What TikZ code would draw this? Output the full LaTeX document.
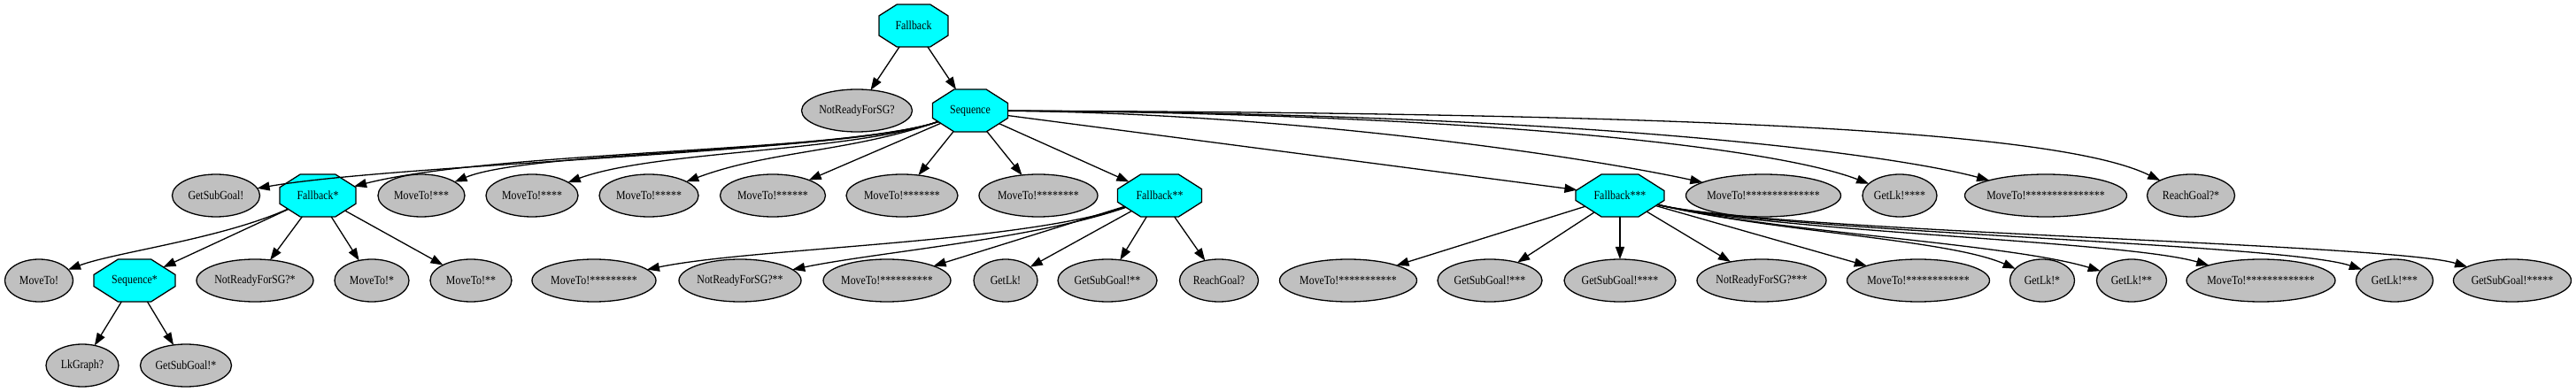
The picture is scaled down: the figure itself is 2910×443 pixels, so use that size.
\documentclass[tikz,border=0pt]{standalone}
\usepackage{fontspec}
\setmainfont{Liberation Serif}[FakeStretch=0.85]
\usetikzlibrary{shapes.geometric,shapes.misc,arrows.meta}
\definecolor{ctrlcyan}{RGB}{0,255,255}
\definecolor{leafgray}{RGB}{192,192,192}
\begin{document}
\begin{tikzpicture}[x=1pt,y=-1pt,
  every node/.style={font=\fontsize{14}{16}\selectfont},
  ctrl/.style={chamfered rectangle, chamfered rectangle xsep=22pt,
    chamfered rectangle ysep=14pt, chamfered rectangle angle=57.5,
    draw, line width=1.3pt, fill=ctrlcyan, minimum width=#1,
    minimum height=48pt, inner xsep=-8pt, inner ysep=0pt, outer sep=0pt},
  leaf/.style={ellipse, draw, line width=1.3pt, fill=leafgray,
    minimum width=#1, minimum height=48pt, inner xsep=-4pt,
    inner ysep=0pt, outer sep=0pt},
  link/.style={line width=1.3pt, -{Triangle[length=14pt,width=10pt]}}]
\useasboundingbox (0,0) rectangle (2910,443);
% root
\node[ctrl=78pt] (fb) at (1032,29) {Fallback};
\node[leaf=125pt] (nr) at (968,125) {NotReadyForSG?};
\node[ctrl=85pt] (seq) at (1096,125) {Sequence};
% children of Sequence
\node[leaf=99pt] (gsg) at (244,221) {GetSubGoal!};
\node[ctrl=86pt] (fbA) at (359,221) {Fallback*};
\node[leaf=98pt] (m3) at (476,221) {MoveTo!***};
\node[leaf=104pt] (m4) at (601,221) {MoveTo!****};
\node[leaf=112pt] (m5) at (733,221) {MoveTo!*****};
\node[leaf=119pt] (m6) at (873,221) {MoveTo!******};
\node[leaf=126pt] (m7) at (1019,221) {MoveTo!*******};
\node[leaf=134pt] (m8) at (1173,221) {MoveTo!********};
\node[ctrl=95pt] (fbB) at (1310,221) {Fallback**};
\node[ctrl=100pt] (fbC) at (1830,221) {Fallback***};
\node[leaf=175pt] (m14) at (1992,221) {MoveTo!**************};
\node[leaf=84pt] (lk4) at (2146,221) {GetLk!****};
\node[leaf=183pt] (m15) at (2311,221) {MoveTo!***************};
\node[leaf=99pt] (rg1) at (2475,221) {ReachGoal?*};
% third level
\node[leaf=77pt] (m0) at (44,317) {MoveTo!};
\node[ctrl=92pt] (seqA) at (152,317) {Sequence*};
\node[leaf=132pt] (nrA) at (288,317) {NotReadyForSG?*};
\node[leaf=84pt] (m1) at (420,317) {MoveTo!*};
\node[leaf=92pt] (m2) at (532,317) {MoveTo!**};
\node[leaf=140pt] (m9) at (671,317) {MoveTo!*********};
\node[leaf=138pt] (nrB) at (836,317) {NotReadyForSG?**};
\node[leaf=144pt] (m10) at (1002,317) {MoveTo!**********};
\node[leaf=72pt] (lk0) at (1136,317) {GetLk!};
\node[leaf=112pt] (gsgB) at (1251,317) {GetSubGoal!**};
\node[leaf=89pt] (rg0) at (1377,317) {ReachGoal?};
\node[leaf=155pt] (m11) at (1523,317) {MoveTo!***********};
\node[leaf=118pt] (gsgC) at (1683,317) {GetSubGoal!***};
\node[leaf=126pt] (gsgD) at (1830,317) {GetSubGoal!****};
\node[leaf=146pt] (nrC) at (1990,317) {NotReadyForSG?***};
\node[leaf=161pt] (m12) at (2167,317) {MoveTo!************};
\node[leaf=73pt] (lk1) at (2307,317) {GetLk!*};
\node[leaf=79pt] (lk2) at (2408,317) {GetLk!**};
\node[leaf=168pt] (m13) at (2554,317) {MoveTo!*************};
\node[leaf=87pt] (lk3) at (2705,317) {GetLk!***};
\node[leaf=133pt] (gsgE) at (2838,317) {GetSubGoal!*****};
% last level
\node[leaf=82pt] (lkg) at (93,413) {LkGraph?};
\node[leaf=103pt] (gsgA) at (210,413) {GetSubGoal!*};
% edges
\draw[link] (fb) -- (nr);
\draw[link] (fb) -- (seq);
\draw[link] (seq) .. controls (960,172) and (450,185) .. (gsg);
\draw[link] (seq) .. controls (960,172) and (560,170) .. (fbA);
\draw[link] (seq) .. controls (960,172) and (600,170) .. (m3);
\draw[link] (seq) .. controls (960,172) and (740,170) .. (m4);
\draw[link] (seq) .. controls (960,172) and (870,170) .. (m5);
\draw[link] (seq) -- (m6);
\draw[link] (seq) -- (m7);
\draw[link] (seq) -- (m8);
\draw[link] (seq) -- (fbB);
\draw[link] (seq) -- (fbC);
\draw[link] (seq) .. controls (1450,128) and (1780,175) .. (m14);
\draw[link] (seq) .. controls (1650,128) and (2000,165) .. (lk4);
\draw[link] (seq) .. controls (1800,128) and (2140,175) .. (m15);
\draw[link] (seq) .. controls (1950,128) and (2330,150) .. (rg1);
\draw[link] (fbA) .. controls (250,270) and (130,285) .. (m0);
\draw[link] (fbA) -- (seqA);
\draw[link] (fbA) -- (nrA);
\draw[link] (fbA) -- (m1);
\draw[link] (fbA) -- (m2);
\draw[link] (seqA) -- (lkg);
\draw[link] (seqA) -- (gsgA);
\draw[link] (fbB) .. controls (1150,275) and (850,280) .. (m9);
\draw[link] (fbB) .. controls (1170,270) and (990,285) .. (nrB);
\draw[link] (fbB) -- (m10);
\draw[link] (fbB) -- (lk0);
\draw[link] (fbB) -- (gsgB);
\draw[link] (fbB) -- (rg0);
\draw[link] (fbC) -- (m11);
\draw[link] (fbC) -- (gsgC);
\draw[link] (fbC) -- (gsgD);
\draw[link] (fbC) -- (nrC);
\draw[link] (fbC) -- (m12);
\draw[link] (fbC) .. controls (2000,262) and (2200,270) .. (lk1);
\draw[link] (fbC) .. controls (2000,262) and (2270,275) .. (lk2);
\draw[link] (fbC) .. controls (2000,262) and (2400,272) .. (m13);
\draw[link] (fbC) .. controls (2000,262) and (2580,275) .. (lk3);
\draw[link] (fbC) .. controls (2000,262) and (2700,275) .. (gsgE);
\end{tikzpicture}
\end{document}
